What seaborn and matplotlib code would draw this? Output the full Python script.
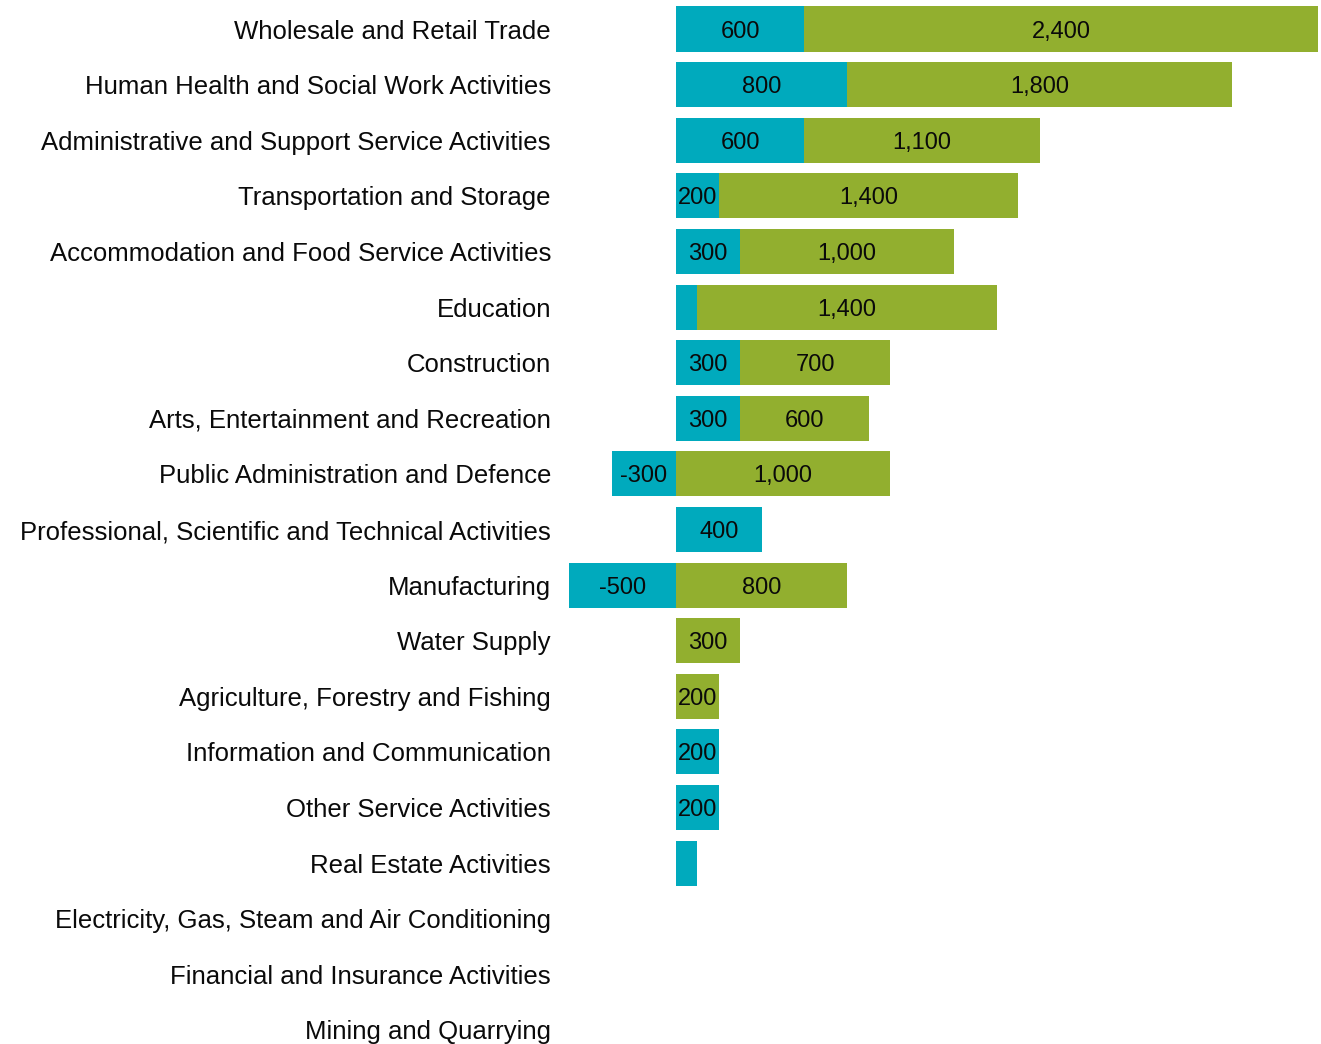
import matplotlib
matplotlib.use("Agg")
import matplotlib.pyplot as plt
import seaborn as sns
import numpy as np

categories = [
    "Wholesale and Retail Trade",
    "Human Health and Social Work Activities",
    "Administrative and Support Service Activities",
    "Transportation and Storage",
    "Accommodation and Food Service Activities",
    "Education",
    "Construction",
    "Arts, Entertainment and Recreation",
    "Public Administration and Defence",
    "Professional, Scientific and Technical Activities",
    "Manufacturing",
    "Water Supply",
    "Agriculture, Forestry and Fishing",
    "Information and Communication",
    "Other Service Activities",
    "Real Estate Activities",
    "Electricity, Gas, Steam and Air Conditioning",
    "Financial and Insurance Activities",
    "Mining and Quarrying",
]
blue_values = [600, 800, 600, 200, 300, 100, 300, 300, -300, 400, -500, 0, 0, 200, 200, 100, 0, 0, 0]
green_values = [2400, 1800, 1100, 1400, 1000, 1400, 700, 600, 1000, 0, 800, 300, 200, 0, 0, 0, 0, 0, 0]

BLUE = "#00aabd"
GREEN = "#92af2f"

sns.set_style("white")
plt.rcParams["font.family"] = ["Liberation Sans", "DejaVu Sans"]

blue = np.array(blue_values)
green = np.array(green_values)
# green is stacked after the positive part of blue
green_end = np.clip(blue, 0, None) + green

fig = plt.figure(figsize=(13.21, 10.44), dpi=100)
ax = fig.add_axes([569 / 1321, 1 - 1057.8 / 1044, 749 / 1321, 1056.6 / 1044])

sns.barplot(x=green_end, y=categories, color=GREEN, orient="h", width=0.81,
            linewidth=0, saturation=1, ax=ax)
sns.barplot(x=blue, y=categories, color=BLUE, orient="h", width=0.81,
            linewidth=0, saturation=1, ax=ax)

for i in range(len(categories)):
    b = blue[i]
    g = green[i]
    if abs(b) >= 200:
        ax.text(b / 2, i, f"{b:,}", ha="center", va="center_baseline",
                fontsize=17, color="#0a0a0a")
    if g >= 200:
        start = max(b, 0)
        ax.text(start + g / 2, i, f"{g:,}", ha="center", va="center_baseline",
                fontsize=17, color="#0a0a0a")

ax.set_xlim(-500, 3000)
ax.set_ylim(len(categories) - 0.5, -0.5)
ax.set_xlabel("")
ax.set_ylabel("")
ax.set_xticks([])
ax.tick_params(axis="y", length=0, pad=13, labelsize=18.5, labelcolor="#0a0a0a")
for label in ax.get_yticklabels():
    label.set_verticalalignment("center_baseline")
for spine in ax.spines.values():
    spine.set_visible(False)

fig.savefig("out.png", dpi=100)
